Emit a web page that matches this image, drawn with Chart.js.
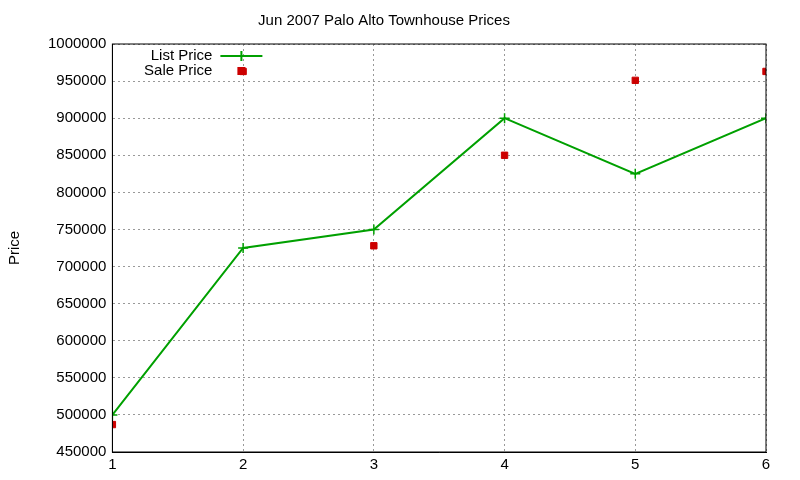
<!DOCTYPE html>
<html>
<head>
<script src="https://cdn.jsdelivr.net/npm/chart.js@4"></script>
<style>body{margin:0;background:#fff}#wrap{width:800px;height:480px}</style>
</head>
<body>
<div id="wrap"><canvas id="c"></canvas></div>
<script>
const xValues = [1, 2, 3, 4, 5, 6];
const listPrice = [500000, 725000, 750000, 900000, 825000, 900000];
const salePrice = [487000, 963000, 728000, 850000, 951000, 963000];

const FONT = "'Liberation Sans', Arial, sans-serif";

// gnuplot style key drawn inside the plot, top left
const keyPlugin = {
  id: "key",
  afterDraw(chart) {
    const ctx = chart.ctx, a = chart.chartArea;
    ctx.save();
    ctx.font = "15px " + FONT;
    ctx.textAlign = "right";
    ctx.textBaseline = "middle";
    ctx.fillStyle = "#000";
    ctx.fillText("List Price", a.left + 100, a.top + 12);
    ctx.fillText("Sale Price", a.left + 100, a.top + 27);
    ctx.strokeStyle = "#00a000";
    ctx.lineWidth = 2;
    ctx.beginPath();
    ctx.moveTo(a.left + 108, a.top + 12);
    ctx.lineTo(a.left + 150, a.top + 12);
    ctx.moveTo(a.left + 129, a.top + 7);
    ctx.lineTo(a.left + 129, a.top + 17);
    ctx.stroke();
    ctx.fillStyle = "#cc0000";
    ctx.fillRect(a.left + 125, a.top + 23, 8, 8);
    ctx.restore();
  }
};

const grid = { color: "#999", drawTicks: false };
const tickFont = { size: 15, family: FONT };

new Chart(document.getElementById("c"), {
  type: "scatter",
  data: {
    datasets: [
      {
        label: "List Price",
        data: xValues.map((x, i) => ({ x, y: listPrice[i] })),
        showLine: true,
        borderColor: "#00a000",
        borderWidth: 2,
        pointStyle: "cross",
        pointRadius: 5,
        pointBorderColor: "#00a000",
        pointBorderWidth: 1.5
      },
      {
        label: "Sale Price",
        data: xValues.map((x, i) => ({ x, y: salePrice[i] })),
        pointStyle: "rect",
        pointRadius: 4.5,
        backgroundColor: "#cc0000",
        borderColor: "#cc0000"
      }
    ]
  },
  options: {
    responsive: true,
    maintainAspectRatio: false,
    animation: false,
    layout: { padding: { right: 34, bottom: 2, left: 2 } },
    plugins: {
      legend: { display: false },
      tooltip: { enabled: false },
      title: {
        display: true,
        text: "Jun 2007 Palo Alto Townhouse Prices",
        color: "#000",
        font: { size: 15, weight: "normal", family: FONT },
        padding: { top: 12, bottom: 14 }
      }
    },
    scales: {
      x: {
        type: "linear",
        min: 1,
        max: 6,
        ticks: { stepSize: 1, color: "#000", padding: 4, font: tickFont },
        grid: grid,
        border: { color: "#000", width: 1, dash: [2, 3] }
      },
      y: {
        min: 450000,
        max: 1000000,
        ticks: { stepSize: 50000, color: "#000", padding: 6, font: tickFont, callback: v => String(v) },
        grid: grid,
        border: { color: "#000", width: 1, dash: [2, 3] },
        title: { display: true, text: "Price", color: "#000", padding: { bottom: 18 }, font: tickFont }
      }
    }
  },
  plugins: [keyPlugin, {
    id: "box",
    afterDraw(chart) {
      const a = chart.chartArea, ctx = chart.ctx;
      ctx.save();
      ctx.strokeStyle = "#000";
      ctx.lineWidth = 1;
      ctx.strokeRect(a.left, a.top, a.right - a.left, a.bottom - a.top);
      ctx.restore();
    }
  }]
});
</script>
</body>
</html>
